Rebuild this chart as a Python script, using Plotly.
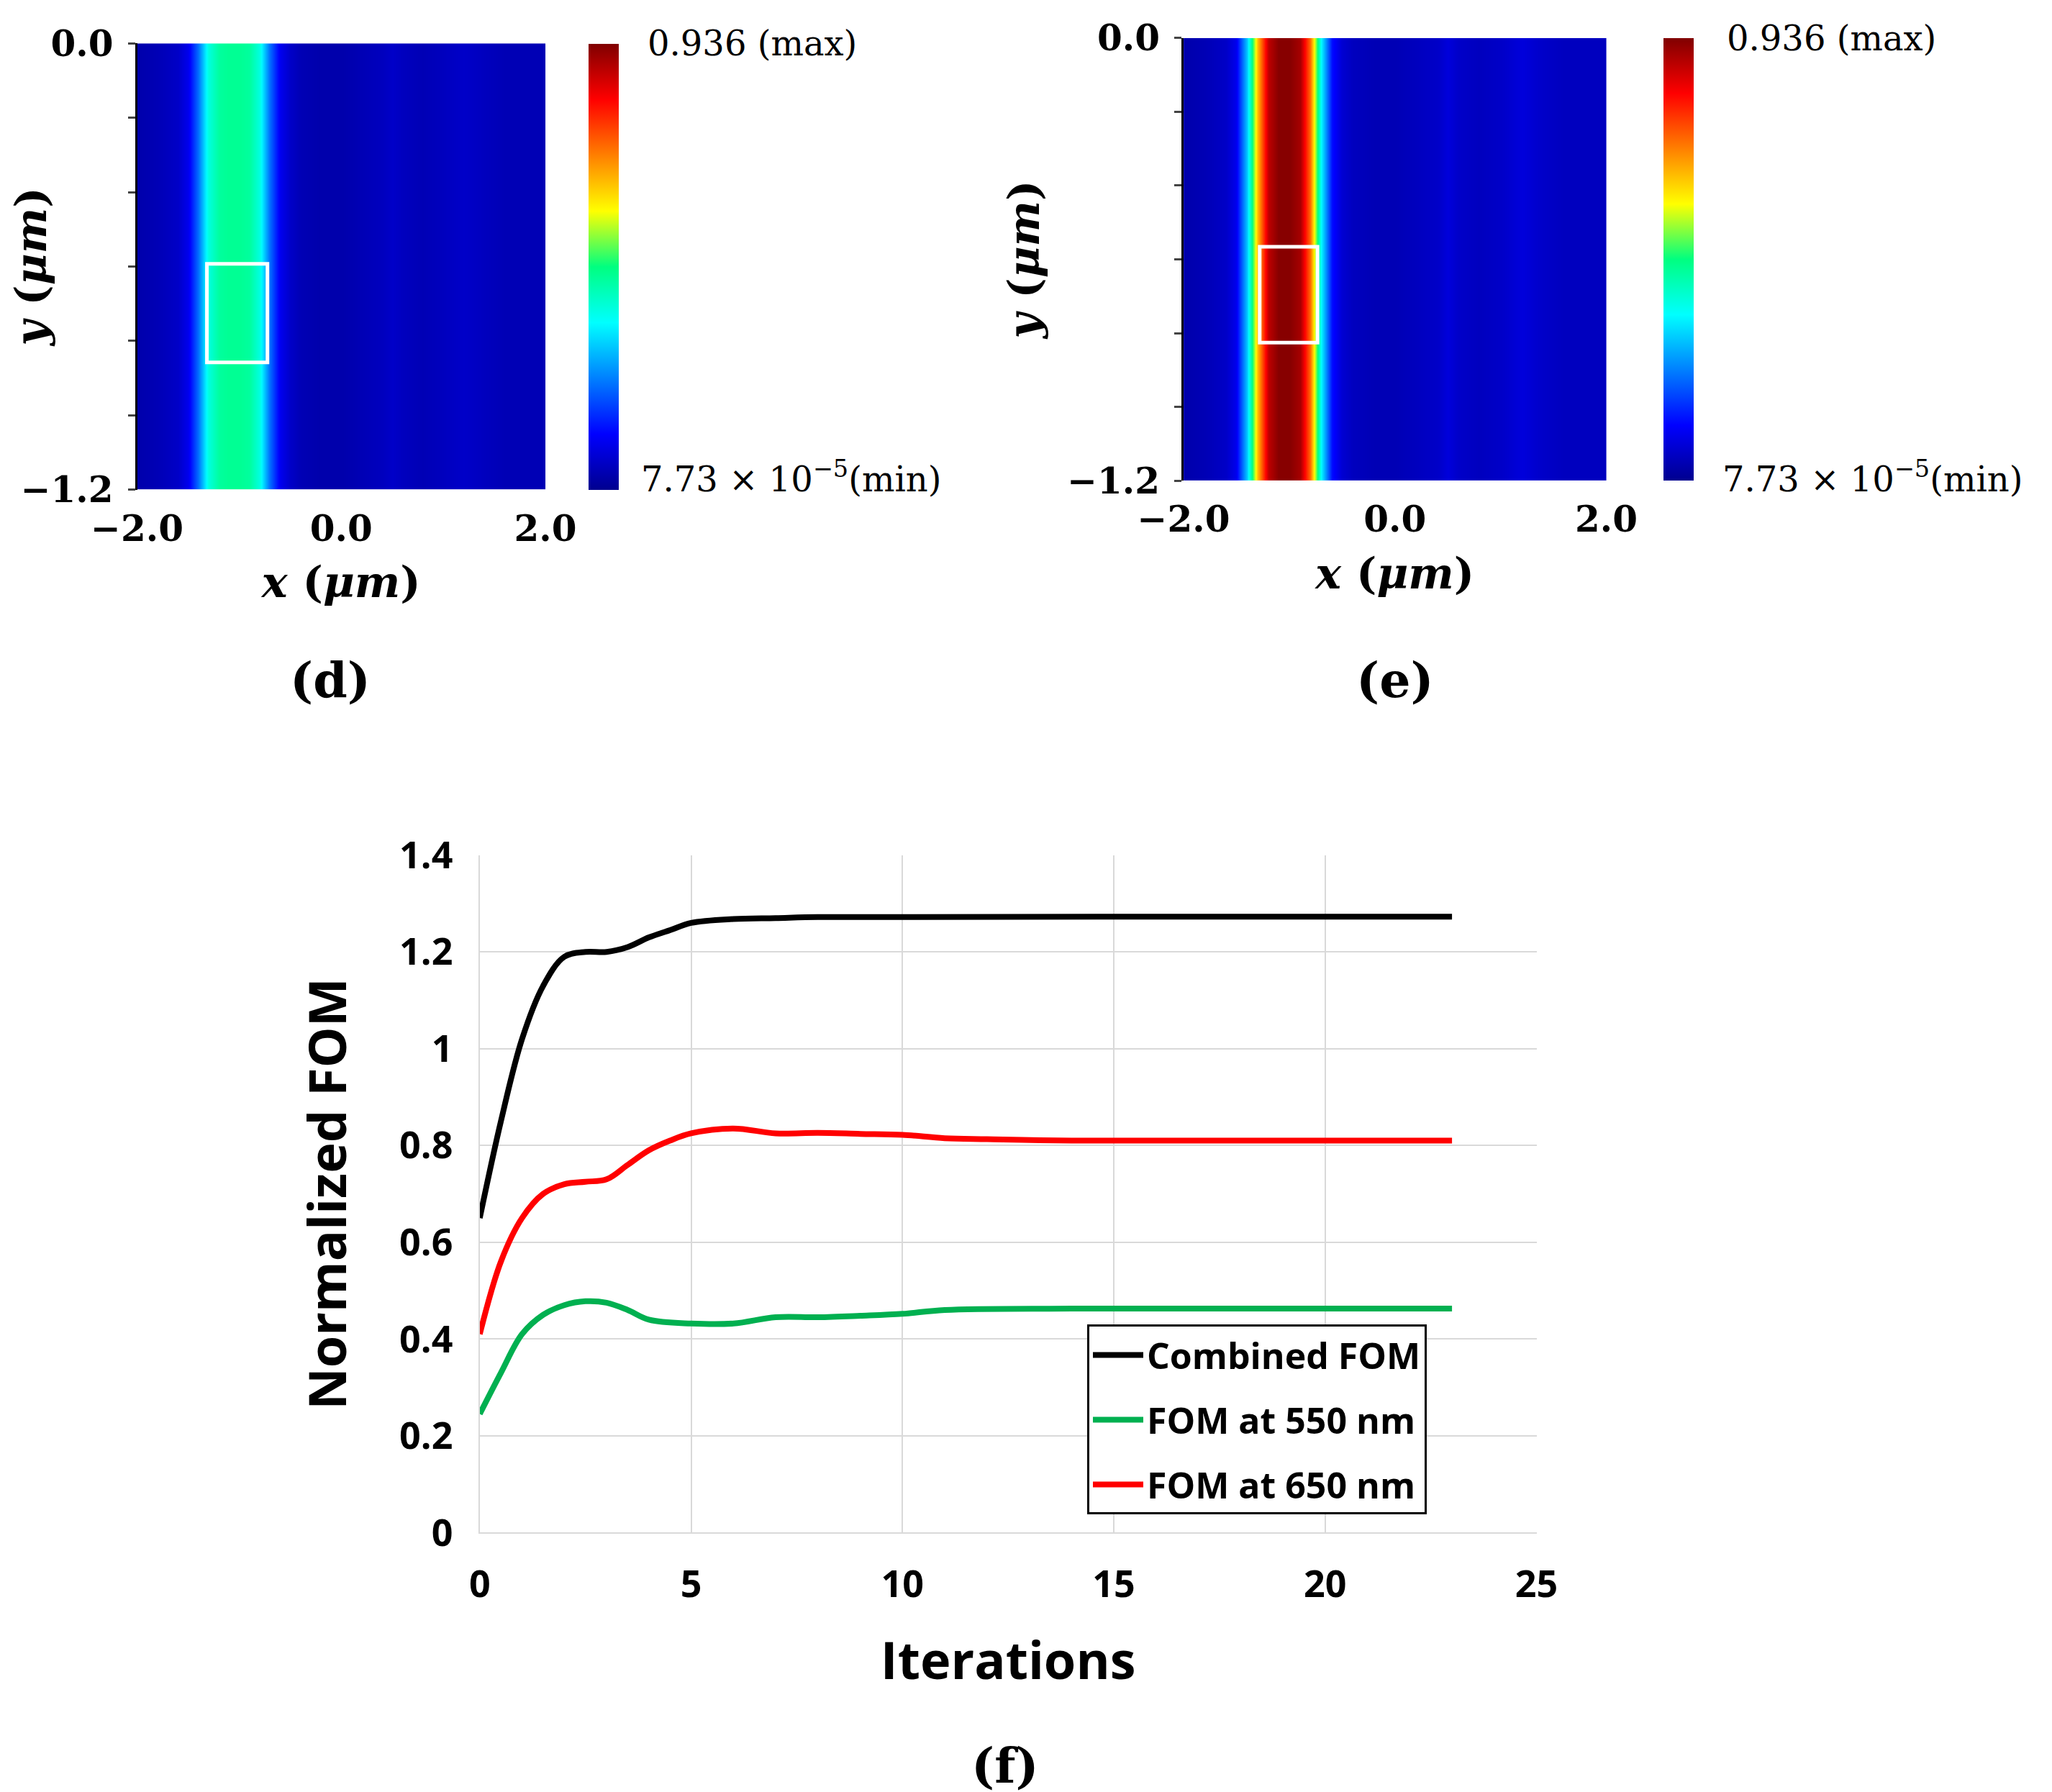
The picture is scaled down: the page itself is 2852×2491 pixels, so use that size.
import plotly.graph_objects as go

# ---- data ----
x_grid = [-2.0,-1.8,-1.6,-1.5,-1.4,-1.3,-1.2,-1.1,-1.0,-0.9,-0.8,-0.7,-0.6,-0.5,-0.4,-0.2,0.0,0.2,0.4,0.5,0.6,0.8,1.0,1.2,1.4,1.6,1.8,2.0]
y_grid = [0.0,-0.2,-0.4,-0.6,-0.8,-1.0,-1.2]
prof_d = [0.03,0.04,0.06,0.10,0.22,0.38,0.44,0.45,0.45,0.44,0.38,0.22,0.10,0.06,0.04,0.03,0.03,0.04,0.05,0.06,0.05,0.04,0.05,0.06,0.05,0.04,0.04,0.04]
prof_e = [0.03,0.04,0.06,0.10,0.30,0.65,0.88,0.93,0.93,0.90,0.72,0.35,0.13,0.07,0.05,0.04,0.04,0.05,0.06,0.08,0.06,0.05,0.06,0.08,0.06,0.05,0.05,0.05]
box_d = [-1.316,-0.723,-0.593,-0.858]
box_e = [-1.28,-0.733,-0.566,-0.826]

iters_c = [0,0.5,1,1.5,2,2.5,3,3.5,4,4.5,5,6,7,8,10,15,23]
fom_c = [0.65,0.85,1.02,1.13,1.19,1.2,1.2,1.21,1.23,1.245,1.26,1.268,1.27,1.272,1.272,1.273,1.273]
iters_r = [0,0.5,1,1.5,2,2.5,3,3.5,4,4.5,5,6,7,8,9,10,11,12,14,23]
fom_r = [0.41,0.56,0.65,0.70,0.72,0.725,0.73,0.76,0.79,0.81,0.825,0.835,0.825,0.826,0.824,0.822,0.815,0.813,0.81,0.81]
iters_g = [0,0.5,1,1.5,2,2.5,3,3.5,4,5,6,7,8,9,10,11,14,23]
fom_g = [0.245,0.33,0.41,0.45,0.47,0.478,0.475,0.46,0.44,0.432,0.432,0.445,0.445,0.448,0.452,0.46,0.463,0.463]

jet = [[0,'#00008f'],[0.125,'#0000ff'],[0.375,'#00ffff'],[0.5,'#00ff80'],[0.625,'#ffff00'],[0.875,'#ff0000'],[1,'#800000']]
zmin, zmax = 7.73e-5, 0.936
serif = "DejaVu Serif"
sans = "Open Sans"

fig = go.Figure()
def heat(prof, xa, ya, cbx, cby):
    z = [prof for _ in y_grid]
    fig.add_trace(go.Heatmap(x=x_grid, y=y_grid, z=z, zsmooth='best', colorscale=jet, zmin=zmin, zmax=zmax,
        xaxis=xa, yaxis=ya, showlegend=False,
        colorbar=dict(x=cbx, xanchor='left', xpad=0, ypad=0, y=cby[0], yanchor='bottom', len=cby[1]-cby[0], lenmode='fraction',
                      thickness=42, showticklabels=False, ticks='', outlinewidth=0)))
heat(prof_d, 'x', 'y', 0.284, (0.730, 0.979))
heat(prof_e, 'x2', 'y2', 0.808, (0.735, 0.982))

for xa, ya, b in [('x','y',box_d),('x2','y2',box_e)]:
    fig.add_shape(type='rect', xref=xa, yref=ya, x0=b[0], x1=b[1], y0=b[2], y1=b[3], line=dict(color='white', width=5))

for xs, ys, col, nm in [(iters_c, fom_c, 'black', 'Combined FOM'), (iters_g, fom_g, '#00b050', 'FOM at 550 nm'), (iters_r, fom_r, '#ff0000', 'FOM at 650 nm')]:
    fig.add_trace(go.Scatter(x=xs, y=ys, mode='lines', line=dict(color=col, width=8, shape='spline'), name=nm,
                             legendgroup=nm, xaxis='x3', yaxis='y3'))

tf = dict(family=serif, size=50, color='black', weight='bold')
def hx(dom):
    return dict(domain=dom, range=[-2,2], tickvals=[-2,0,2], ticktext=['−2.0','0.0','2.0'], ticks='', showgrid=False, zeroline=False,
                tickfont=tf, ticklabelstandoff=20, automargin=False,
                title=dict(text='<b><i>x</i> (<i>μm</i>)</b>', font=dict(family=serif, size=60, color='black'), standoff=25), showline=False)
def hy(dom, anchor):
    return dict(domain=dom, anchor=anchor, range=[-1.2,0], tickvals=[0,-0.2,-0.4,-0.6,-0.8,-1.0,-1.2],
                ticktext=['0.0','','','','','','−1.2'], ticks='outside', ticklen=10, tickwidth=3, showline=True, linewidth=3, linecolor='black',
                showgrid=False, zeroline=False, tickfont=tf, ticklabelstandoff=10, automargin=False,
                title=dict(text='<b><i>y</i> (<i>μm</i>)</b>', font=dict(family=serif, size=60, color='black'), standoff=20))

fig.update_layout(
    width=2852, height=2491, paper_bgcolor='white', plot_bgcolor='white', margin=dict(l=0,r=0,t=0,b=0),
    xaxis=dict(**hx([0.064,0.263]), anchor='y'),
    yaxis=hy([0.730,0.979], 'x'),
    xaxis2=dict(**hx([0.574,0.780]), anchor='y2'),
    yaxis2=hy([0.735,0.982], 'x2'),
    xaxis3=dict(domain=[0.231,0.746], anchor='y3', range=[0,25], dtick=5, showgrid=True, gridcolor='#d9d9d9', gridwidth=2,
                showline=True, linecolor='#d9d9d9', linewidth=2, zeroline=False, ticks='', ticklabelstandoff=25, automargin=False,
                tickfont=dict(family=sans, size=52, color='black', weight='bold'),
                title=dict(text='<b>Iterations</b>', font=dict(family=sans, size=72, color='black'), standoff=50)),
    yaxis3=dict(domain=[0.148,0.526], anchor='x3', range=[0,1.4], tickvals=[0,0.2,0.4,0.6,0.8,1.0,1.2,1.4],
                ticktext=['0','0.2','0.4','0.6','0.8','1','1.2','1.4'], showgrid=True, gridcolor='#d9d9d9', gridwidth=2,
                showline=True, linecolor='#d9d9d9', linewidth=2, zeroline=False, ticks='', ticklabelstandoff=25, automargin=False,
                tickfont=dict(family=sans, size=52, color='black', weight='bold'),
                title=dict(text='<b>Normalized FOM</b>', font=dict(family=sans, size=72, color='black'), standoff=50)),
    legend=dict(x=0.527, y=0.264, xanchor='left', yanchor='top', bordercolor='black', borderwidth=3, bgcolor='white',
                font=dict(family=sans, size=50, color='black', weight='bold'), itemwidth=70, tracegroupgap=22,
                traceorder='grouped'),
    showlegend=True,
)

ann = [
    (0.312, 0.979, '0.936 (max)'), (0.309, 0.737, '7.73 × 10<sup>−5</sup>(min)'),
    (0.838, 0.982, '0.936 (max)'), (0.836, 0.737, '7.73 × 10<sup>−5</sup>(min)'),
]
for x, y, t in ann:
    fig.add_annotation(x=x, y=y, xref='paper', yref='paper', text=t, showarrow=False, xanchor='left', yanchor='middle',
                       font=dict(family=serif, size=48, color='black'))
for x, y, t in [(0.158, 0.624, '(d)'), (0.677, 0.624, '(e)'), (0.487, 0.018, '(f)')]:
    fig.add_annotation(x=x, y=y, xref='paper', yref='paper', text='<b>'+t+'</b>', showarrow=False, xanchor='center', yanchor='middle',
                       font=dict(family=serif, size=68, color='black'))

fig.write_html("out.html")
